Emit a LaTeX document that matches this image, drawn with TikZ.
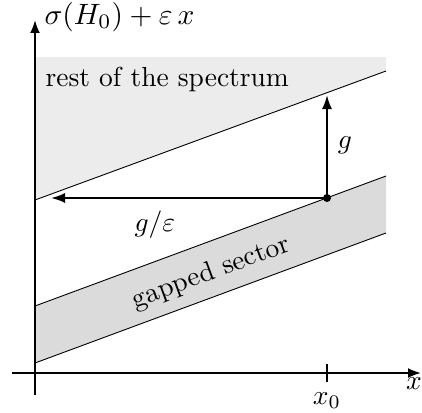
\documentclass[tikz,border=0pt]{standalone}
\usetikzlibrary{arrows.meta}
\begin{document}
\begin{tikzpicture}[x=1pt,y=-1pt,
  axis/.style={line width=2pt,-{Latex[length=13pt,width=10pt]}},
  edge/.style={line width=0.9pt},
  garrow/.style={line width=2pt,-{Latex[length=14pt,width=10pt]}},
  lbl/.style={inner sep=0pt,scale=2.75}]
\useasboundingbox (0,0) rectangle (422,412);
% regions
\fill[gray!15] (35,57) -- (386,57) -- (386,71) -- (35,200) -- cycle;
\fill[gray!28] (35,306) -- (386,176) -- (386,233) -- (35,363) -- cycle;
% boundary lines
\coordinate (u1) at (35,200); \coordinate (u2) at (386,71);
\coordinate (g1) at (35,306); \coordinate (g2) at (386,176);
\coordinate (b1) at (35,363); \coordinate (b2) at (386,233);
\draw[edge] (u1) -- (u2);
\draw[edge] (g1) -- (g2);
\draw[edge] (b1) -- (b2);
% axes
\coordinate (ya) at (35,395); \coordinate (yb) at (35,20);
\coordinate (xa) at (12,373); \coordinate (xb) at (421,373);
\draw[axis] (ya) -- (yb);
\draw[axis] (xa) -- (xb);
\coordinate (t1) at (327,364); \coordinate (t2) at (327,382);
\draw[line width=1.6pt] (t1) -- (t2);
% point and arrows
\coordinate (p) at (327,198);
\coordinate (pu) at (327,95);
\coordinate (pl) at (51,198);
\draw[garrow] (p) -- (pu);
\draw[garrow] (p) -- (pl);
\fill (p) circle (4);
% labels
\node[lbl,scale=1.07,anchor=west] (ylab) at (44,17) {$\sigma(H_0)+\varepsilon\, x$};
\node[lbl] (xlab) at (414,384) {$x$};
\node[lbl] (x0lab) at (327,401) {$x_0$};
\node[lbl] (glab) at (345,145) {$g$};
\node[lbl] (gelab) at (155,225) {$g/\varepsilon$};
\node[lbl,anchor=west] (rest) at (45,79) {rest of the spectrum};
\node[lbl,rotate=20.3] (gap) at (211,273) {gapped sector};
\end{tikzpicture}
\end{document}
